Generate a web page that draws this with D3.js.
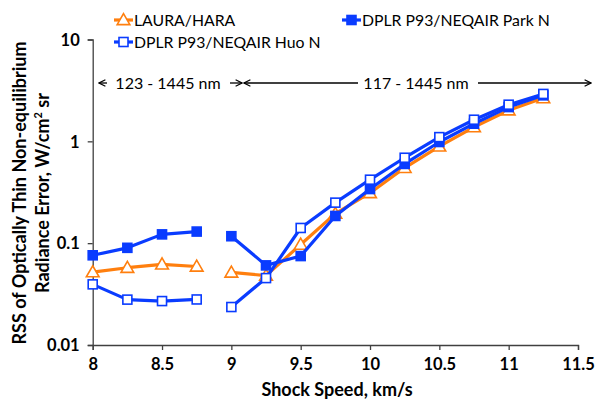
<!DOCTYPE html>
<html><head><meta charset="utf-8">
<script src="https://cdn.jsdelivr.net/npm/d3@7"></script>
<style>body{margin:0;background:#fff}svg{display:block}text{font-family:Lato,"Open Sans",sans-serif}</style>
</head><body><svg id="c" width="595" height="400"></svg>
<script>
const speeds = [8, 8.25, 8.5, 8.75, 9, 9.25, 9.5, 9.75, 10, 10.25, 10.5, 10.75, 11, 11.25];
const laura  = [0.052, 0.0574, 0.062, 0.059, 0.0516, 0.048, 0.097, 0.195, 0.311, 0.55, 0.893, 1.38, 2.02, 2.66];
const parkN  = [0.076, 0.090, 0.122, 0.130, 0.117, 0.0605, 0.0747, 0.185, 0.34, 0.60, 0.985, 1.49, 2.17, 2.83];
const huoN   = [0.0394, 0.0279, 0.027, 0.028, 0.0236, 0.0454, 0.141, 0.25, 0.42, 0.69, 1.10, 1.63, 2.29, 2.92];
const breakAfter = 8.75; // gap in lines between 8.75 and 9
const xTicks = [8, 8.5, 9, 9.5, 10, 10.5, 11, 11.5];
const yTicks = [0.01, 0.1, 1, 10];
const seriesNames = ["LAURA/HARA", "DPLR P93/NEQAIR Park N", "DPLR P93/NEQAIR Huo N"];

const svg = d3.select("#c");
const x = d3.scaleLinear().domain([8, 11.5]).range([92.7, 578]);
const y = d3.scaleLog().domain([0.01, 10]).range([345, 39.5]);

const orange = "#FF7F0E", blue = "#0A3CFF";
const series = [
  {name: seriesNames[0], vals: laura, color: orange, marker: "tri", fill: "#fff"},
  {name: seriesNames[1], vals: parkN, color: blue, marker: "sq", fill: blue},
  {name: seriesNames[2], vals: huoN, color: blue, marker: "sq", fill: "#fff"}
];

// axes
const xAxis = d3.axisBottom(x).tickValues(xTicks).tickSize(5).tickFormat(d3.format("~g"));
const gx = svg.append("g").attr("transform", `translate(0,${y(0.01)})`).call(xAxis);
const yAxis = d3.axisLeft(y).tickValues(yTicks).tickSize(5).tickFormat(d => d3.format("~g")(d));
const gy = svg.append("g").attr("transform", `translate(${x(8)},0)`).call(yAxis);
[gx, gy].forEach(g => {
  g.select(".domain").attr("stroke", "#404040").attr("stroke-width", 1.3);
  g.selectAll(".tick line").attr("stroke", "#404040").attr("stroke-width", 1.3);
  g.selectAll(".tick text").attr("fill", "#000").style("font-size", "16.5px").style("font-weight", "bold").style("font-family", "Lato");
});
gx.selectAll(".tick text").attr("dy", "1.05em");
gy.selectAll(".tick text").attr("x", -13).attr("dy", "0.35em");

// axis titles
svg.append("text").attr("x", 337).attr("y", 396).attr("text-anchor", "middle")
  .style("font-size", "18px").style("font-weight", "bold").text("Shock Speed, km/s");
const yt = svg.append("text").attr("transform", "translate(26,193) rotate(-90)").attr("text-anchor", "middle")
  .style("font-size", "18px").style("font-weight", "bold");
yt.append("tspan").attr("x", 0).attr("dy", 0).text("RSS of Optically Thin Non-equilibrium");
const t2 = yt.append("tspan").attr("x", 0).attr("dy", 23).text("Radiance Error, W/cm");
t2.append("tspan").attr("dy", -7).style("font-size", "11px").text("2");
t2.append("tspan").attr("dy", 7).text(" sr");

// lines and markers
const line = d3.line()
  .defined(d => d[1] != null)
  .x(d => x(d[0])).y(d => y(d[1]));
const tri = d3.symbol().type(d3.symbolTriangle).size(70);
function drawMarker(g, cx, cy, s) {
  if (s.marker === "tri") {
    g.append("path").attr("d", tri()).attr("transform", `translate(${cx},${cy + 1})`)
      .attr("fill", s.fill).attr("stroke", s.color).attr("stroke-width", 1.6);
  } else {
    const sz = 9;
    g.append("rect").attr("x", cx - sz/2).attr("y", cy - sz/2).attr("width", sz).attr("height", sz)
      .attr("fill", s.fill).attr("stroke", s.color).attr("stroke-width", 1.6);
  }
}
series.forEach(s => {
  const pts = [];
  speeds.forEach((v, i) => {
    pts.push([v, s.vals[i]]);
    if (v === breakAfter) pts.push([v, null]);
  });
  const g = svg.append("g");
  g.append("path").datum(pts).attr("d", line).attr("fill", "none")
    .attr("stroke", s.color).attr("stroke-width", 3.2).attr("stroke-linejoin", "round");
  speeds.forEach((v, i) => drawMarker(g, x(v), y(s.vals[i]), s));
});

// legend
const leg = [
  {s: series[0], lx: 114, ly: 20},
  {s: series[1], lx: 342, ly: 20},
  {s: series[2], lx: 114, ly: 42}
];
leg.forEach(L => {
  const g = svg.append("g");
  g.append("line").attr("x1", L.lx).attr("x2", L.lx + 19).attr("y1", L.ly).attr("y2", L.ly)
    .attr("stroke", L.s.color).attr("stroke-width", 3.2);
  drawMarker(g, L.lx + 9.5, L.ly, L.s);
  g.append("text").attr("x", L.lx + 20).attr("y", L.ly).attr("dy", "0.35em")
    .style("font-size", "15.8px").text(L.s.name);
});

// range annotations
svg.append("defs").append("marker").attr("id", "ah").attr("viewBox", "0 0 10 10")
  .attr("refX", 9).attr("refY", 5).attr("markerWidth", 8).attr("markerHeight", 8)
  .attr("markerUnits", "userSpaceOnUse").attr("orient", "auto-start-reverse")
  .append("path").attr("d", "M1,1 L9,5 L1,9").attr("fill", "none").attr("stroke", "#000").attr("stroke-width", 1.5);
function arrow(x1, x2, yy, start) {
  const l = svg.append("line").attr("x1", x1).attr("x2", x2).attr("y1", yy).attr("y2", yy)
    .attr("stroke", "#000").attr("stroke-width", 1.3);
  if (start) l.attr("marker-start", "url(#ah)"); else l.attr("marker-end", "url(#ah)");
}
const ay = 83;
arrow(99, 107, ay, true);
svg.append("text").attr("x", 168).attr("y", ay).attr("dy", "0.35em").attr("text-anchor", "middle").style("font-size", "16px").text("123 - 1445 nm");
arrow(230, 242, ay, false);
arrow(244, 358, ay, true);
svg.append("text").attr("x", 416).attr("y", ay).attr("dy", "0.35em").attr("text-anchor", "middle").style("font-size", "16px").text("117 - 1445 nm");
arrow(478, 591, ay, false);
</script></body></html>
